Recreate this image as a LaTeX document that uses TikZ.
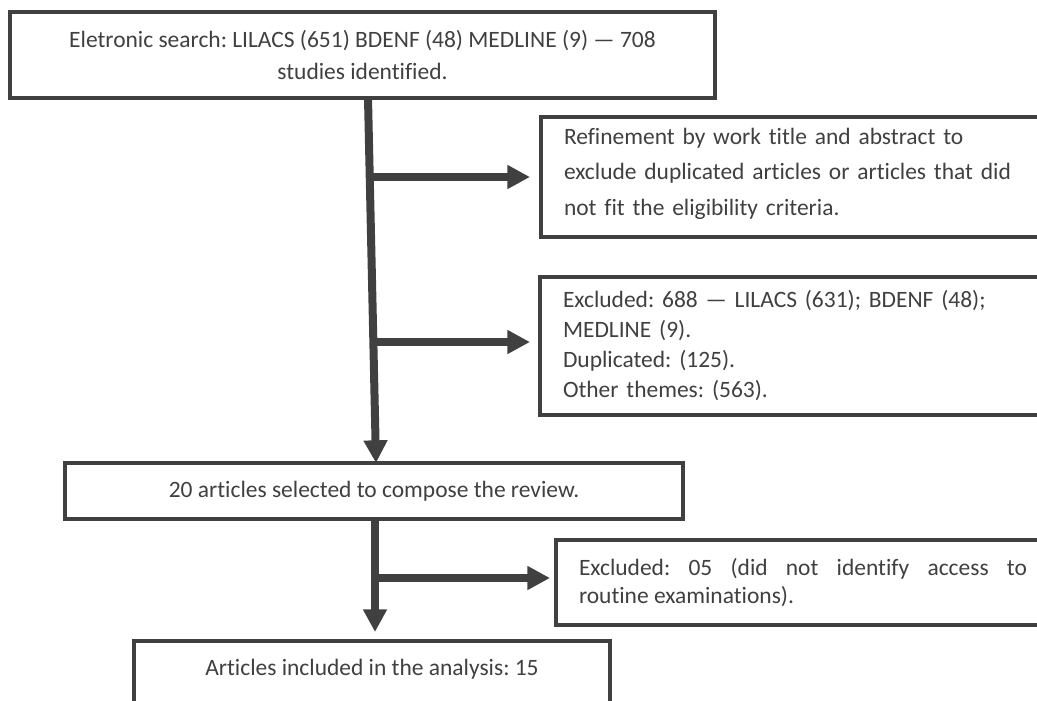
\documentclass[tikz,border=0pt]{standalone}
\usepackage{fontspec}
\setmainfont{Carlito}[Ligatures=CommonOff]
\usetikzlibrary{arrows.meta,shadows}
\definecolor{ink}{HTML}{404040}
\frenchspacing
\begin{document}
\begin{tikzpicture}[x=0.75pt,y=-0.75pt,
  box/.style={draw=ink, line width=3pt, fill=white, text=ink, inner sep=0pt,
    drop shadow={shadow xshift=1.2pt, shadow yshift=-1.2pt, opacity=0.22, fill=black}},
  arr/.style={draw=ink, line width=6pt, -{Triangle[length=17pt,width=17pt]}},
]
\useasboundingbox (0,0) rectangle (1037,700);
\clip (0,0) rectangle (1037,700);

\node[box, minimum width=528.75pt, minimum height=64.5pt, align=center,
  font=\fontsize{17.6}{24}\selectfont] (search) at (362.5,55)
  {Eletronic search: LILACS (651) BDENF (48) MEDLINE (9) — 708\\studies identified.};

\node[box, anchor=north west, minimum height=90pt, inner xsep=17.25pt, text width=360pt,
  align=left, font=\fontsize{17.6}{26.5}\selectfont] (refine) at (539,115)
  {Refinement by work title and abstract to\\exclude duplicated articles or articles that did\\not fit the eligibility criteria.\rule[-8pt]{0pt}{0pt}};

\node[box, anchor=north west, minimum height=103.5pt, inner xsep=17.25pt, text width=360pt,
  align=left, font=\fontsize{17.6}{22.5}\selectfont] (excl) at (538,275)
  {Excluded: 688 — LILACS (631); BDENF (48);\\MEDLINE (9).\\Duplicated: (125).\\Other themes: (563).};

\node[box, minimum width=463.5pt, minimum height=42pt, align=center,
  font=\fontsize{17.6}{21}\selectfont] (sel) at (374,491)
  {20 articles selected to compose the review.};

\node[box, anchor=north west, minimum height=63.75pt, inner xsep=17.25pt, text width=336pt,
  align=justify, font=\fontsize{17.6}{21}\selectfont] (excl05) at (554,538)
  {Excluded: 05 (did not identify access to\linebreak routine examinations).};

\node[box, anchor=north, minimum width=357pt, text height=26pt, text depth=46pt, align=center,
  font=\fontsize{17.6}{21}\selectfont] (final) at (372,639)
  {Articles included in the analysis: 15};

\coordinate (t1s) at (368,98);
\coordinate (t1e) at (376,463);
\coordinate (b1) at (369,177);
\coordinate (b2) at (371.5,342);
\coordinate (t2s) at (375,519);
\coordinate (b3) at (375,578);

\draw[arr] (t1s) -- (t1e);
\draw[arr, shorten >=6.75pt] (b1) -- (refine.west |- b1);
\draw[arr, shorten >=6pt] (b2) -- (excl.west |- b2);
\draw[arr, shorten >=5.25pt] (t2s) -- (final.north -| t2s);
\draw[arr, shorten >=3pt] (b3) -- (excl05.west |- b3);
\end{tikzpicture}
\end{document}
